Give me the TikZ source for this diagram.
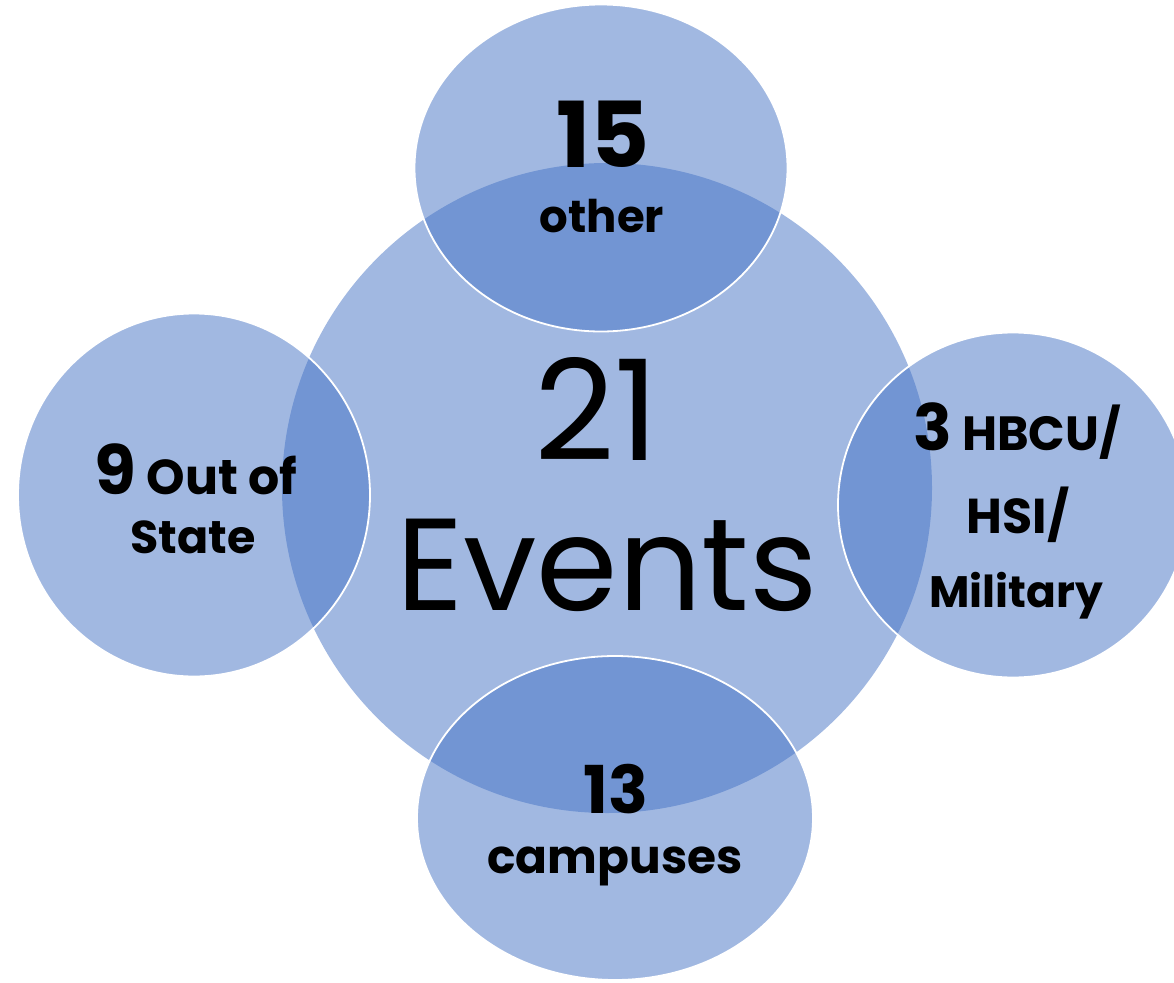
\documentclass[tikz,border=0pt]{standalone}
\usepackage{fontspec}
\setmainfont{Poppins}
\usetikzlibrary{shapes.geometric}
\definecolor{accent}{HTML}{4472C4}
\newcommand{\fsz}[1]{\fontsize{#1}{#1}\selectfont}

\begin{document}
\begin{tikzpicture}[x=1pt,y=-1pt]
        \tikzstyle{blob}=[ellipse, inner sep=0pt, fill=accent, fill opacity=0.5]
        \tikzstyle{satellite}=[blob, draw=white, line width=1.8pt]
        \tikzstyle{txt}=[anchor=base, inner sep=0pt, text=black, text opacity=1]
        \useasboundingbox (0,0) rectangle (1174,982);
        \clip (0,0) rectangle (1174,982);
        % circles
        \node[blob, minimum width=650pt, minimum height=650pt] (hub) at (607,488) {};
        \node[satellite, minimum width=373pt, minimum height=327pt] (top) at (601,168) {};
        \node[satellite, minimum width=352pt, minimum height=363pt] (left) at (194,495) {};
        \node[satellite, minimum width=350pt, minimum height=345pt] (right) at (1013,505) {};
        \node[satellite, minimum width=396pt, minimum height=324pt] (bottom) at (615,818) {};
        % texts
        \node[txt, font=\fsz{140}] (hubnum) at (597,460) {21};
        \node[txt, font=\fsz{131}] (hubword) at (607,610) {Events};
        \node[txt, font=\fsz{91}\bfseries] (topnum) at (603,167) {15};
        \node[txt, font=\fsz{45}\bfseries] (topword) at (602,232) {other};
        \node[txt, font=\fsz{49}\bfseries] (leftone) at (196,494) {{\fsz{68}9} Out of};
        \node[txt, font=\fsz{46}\bfseries] (lefttwo) at (193,553) {State};
        \node[txt, font=\fsz{48}\bfseries] (rightone) at (1017,450) {{\fsz{64}3} HBCU/};
        \node[txt, font=\fsz{49}\bfseries] (righttwo) at (1018,533) {HSI/};
        \node[txt, font=\fsz{44}\bfseries] (rightthree) at (1016,607) {Military};
        \node[txt, font=\fsz{66}\bfseries] (bottomnum) at (616,813) {13};
        \node[txt, font=\fsz{47}\bfseries] (bottomword) at (615,873) {campuses};
\end{tikzpicture}
\end{document}
